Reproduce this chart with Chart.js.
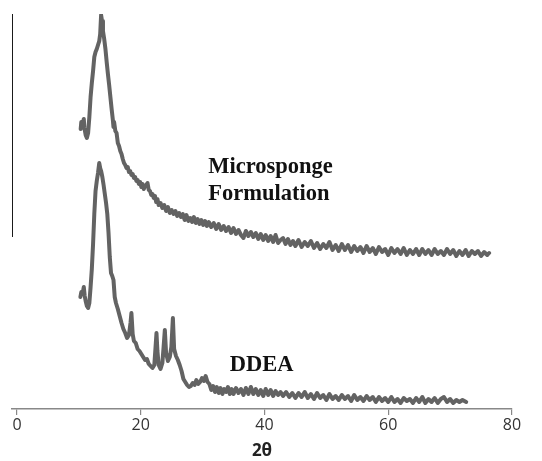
<!DOCTYPE html>
<html><head><meta charset="utf-8">
<script src="https://cdn.jsdelivr.net/npm/chart.js@4"></script>
<style>html,body{margin:0;padding:0;background:#fff}</style>
</head><body>
<canvas id="c" width="542" height="461"></canvas>
<script>
const xTicks = [0, 20, 40, 60, 80];
const axisTitle = '2θ';
const seriesNames = ['Microsponge Formulation', 'DDEA'];

const microTheta = [10.3,10.4,10.6,10.8,10.9,11.1,11.3,11.5,11.7,11.9,12.1,12.3,12.5,12.7,12.9,13.1,13.3,13.45,13.6,13.75,13.9,14.1,14.3,14.5,14.7,14.9,15.1,15.3,15.5,15.6,15.7,15.9,16.1,16.3,16.5,16.7,16.9,17.1,17.3,17.5,17.7,17.9,18.1,18.3,18.5,18.7,18.9,19.1,19.3,19.5,19.7,19.9,20.1,20.3,20.5,20.7,20.9,21.1,21.3,21.5,21.7,21.9,22.1,22.3,22.5,22.7,22.9,23.2,23.5,23.8,24.1,24.4,24.7,
25.0,25.3,25.6,25.9,26.2,26.5,26.8,27.1,27.4,27.7,28.0,28.3,28.6,28.9,29.2,29.5,29.8,30.1,30.4,30.7,31.0,31.4,31.8,32.2,32.6,33.0,33.4,33.8,34.2,34.6,35.0,35.4,35.8,36.2,36.6,37.0,37.4,37.8,38.2,38.6,39.0,39.4,39.8,40.2,40.6,41.0,41.4,41.8,42.2,42.6,43.0,43.4,43.8,44.2,44.6,45.0,45.5,46.0,46.5,47.0,47.5,48.0,48.5,49.0,49.5,50.0,50.5,51.0,51.5,52.0,52.5,53.0,53.5,54.0,54.5,55.0,55.5,56.0,56.5,57.0,57.5,58.0,58.5,59.0,59.5,60.0,60.5,61.0,61.5,62.0,62.5,63.0,63.5,64.0,64.5,65.0,65.5,66.0,66.5,67.0,67.5,68.0,68.5,69.0,69.5,70.0,70.5,71.0,71.5,72.0,72.5,73.0,73.5,74.0,74.5,75.0,75.5,76.0,76.3];
const microI = [280,287,284,290,281,274,271,276,292,312,326,338,352,357,360,364,368,375,394,388,378,370,360,347,335,324,312,300,289,282,287,278,276,266,263,258,255,250,246,244,241,242,237,238,234,235,231,232,228,229,225,227,222,225,220,223,224,226,219,218,214,215,211,213,207,210,204,206,201,204,198,202,196,
199,195,198,193,196,192,195,189,194,188,191,187,192,186,190,185,189,184,188,183,187,182,186,180,185,179,183,178,182,176,181,175,179,174,171,178,173,177,172,176,170,175,169,174,168,173,167,174,166,169,171,165,170,164,168,163,169,162,167,163,168,161,166,160,165,161,167,159,164,158,165,159,164,157,163,158,162,156,163,157,161,155,162,157,160,154,161,156,160,155,161,154,159,155,160,154,160,155,159,154,160,155,158,154,160,155,159,153,158,154,159,153,158,155,158,153,157,154,156];

const ddeaTheta = [10.25,10.4,10.6,10.8,10.95,11.1,11.3,11.5,11.7,11.9,12.1,12.3,12.5,12.7,12.9,13.1,13.3,13.45,13.6,13.8,14.0,14.2,14.4,14.6,14.8,15.0,15.2,15.4,15.6,15.8,16.0,16.3,16.6,16.9,17.2,17.5,17.8,18.1,18.35,18.5,18.7,18.9,19.2,19.5,19.8,20.1,20.4,20.7,21.0,21.3,21.6,21.9,22.2,22.4,22.55,22.7,22.9,23.2,23.5,23.7,23.9,24.1,24.4,24.7,24.95,25.2,25.4,25.7,26.0,26.3,26.6,26.9,27.2,27.5,27.8,28.1,28.4,28.7,29.0,29.3,29.6,29.9,30.2,30.5,30.8,31.1,31.4,31.7,32.0,32.3,32.6,32.9,33.2,33.5,33.8,34.1,34.4,34.7,35.0,35.4,35.8,36.2,36.6,37.0,37.4,37.8,38.2,38.6,39.0,39.4,39.8,40.2,40.6,41.0,41.4,41.8,42.2,42.6,43.0,43.5,44.0,44.5,45.0,45.5,46.0,46.5,47.0,47.5,48.0,48.5,49.0,49.5,50.0,50.5,51.0,51.5,52.0,52.5,53.0,53.5,54.0,54.5,55.0,55.5,56.0,56.5,57.0,57.5,58.0,58.5,59.0,59.5,60.0,60.5,61.0,61.5,62.0,62.5,63.0,63.5,64.0,64.5,65.0,65.5,66.0,66.5,67.0,67.5,68.0,68.5,69.0,69.5,70.0,70.5,71.0,71.5,72.0,72.6];
const ddeaI = [112,117,115,122,113,108,103,101,106,122,140,165,195,218,228,236,246,241,238,232,224,215,206,195,176,152,136,133,129,112,106,100,93,86,80,76,71,74,86,96,75,68,66,60,58,55,52,49,50,45,43,41,44,62,76,58,44,40,46,62,79,56,48,52,62,91,60,53,49,44,38,30,27,24,22,23,26,24,29,25,27,31,28,33,27,
25,19,23,17,22,16,21,15,20,17,22,15,20,
15,21,16,20,14,21,15,22,15,20,14,19,13,20,14,19,13,18,14,17,
13,
17,12,16,11,16,12,17,11,15,10,16,11,14,9,15,10,13,9,14,10,13,8,14,9,12,8,13,9,12,7,12,8,11,7,12,7,10,6,11,8,10,6,11,7,12,6,10,7,11,6,10,12,7,10,6,9,7,9,
7];

const notes = [
  {text: 'Microsponge', x: 30.9, y: 236},
  {text: 'Formulation', x: 30.9, y: 209},
  {text: 'DDEA', x: 34.4, y: 38}
];
const yMax = 395;
const leftBarBottom = 172;

function pts(t, v) { return t.map((x, i) => ({x: x, y: v[i]})); }

const deco = {
  id: 'deco',
  afterDraw(chart) {
    const {ctx, chartArea: a, scales: {x, y}} = chart;
    ctx.save();
    ctx.strokeStyle = '#1a1a1a';
    ctx.lineWidth = 1;
    ctx.beginPath();
    ctx.moveTo(a.left + 0.5, a.top);
    ctx.lineTo(a.left + 0.5, y.getPixelForValue(leftBarBottom));
    ctx.stroke();
    ctx.fillStyle = '#111';
    ctx.font = 'bold 22.5px "Liberation Serif"';
    ctx.textBaseline = 'alphabetic';
    ctx.textAlign = 'left';
    notes.forEach(n => ctx.fillText(n.text, x.getPixelForValue(n.x), y.getPixelForValue(n.y)));
    ctx.restore();
  }
};

const lineStyle = {borderColor: '#636363', borderWidth: 4, pointRadius: 0, tension: 0, fill: false, borderJoinStyle: 'round', borderCapStyle: 'round'};

new Chart(document.getElementById('c'), {
  type: 'line',
  data: {
    datasets: [
      Object.assign({label: seriesNames[0], data: pts(microTheta, microI)}, lineStyle),
      Object.assign({label: seriesNames[1], data: pts(ddeaTheta, ddeaI)}, lineStyle)
    ]
  },
  options: {
    responsive: false,
    animation: false,
    devicePixelRatio: 1,
    layout: {padding: {left: 12, right: 30, top: 14, bottom: 0}},
    plugins: {legend: {display: false}, tooltip: {enabled: false}},
    scales: {
      x: {
        type: 'linear', min: -0.8, max: 80,
        afterBuildTicks: s => { s.ticks = xTicks.map(v => ({value: v})); },
        afterFit: s => { s.height = 52; },
        border: {color: '#888', width: 1.5},
        grid: {drawOnChartArea: false, drawTicks: true, tickLength: 6, color: '#888', lineWidth: 1.2},
        ticks: {font: {family: '"Open Sans"', size: 16}, color: '#333', padding: 1, maxRotation: 0},
        title: {display: true, text: axisTitle, font: {family: '"Open Sans"', size: 17, weight: 'bold'}, color: '#222', padding: {top: 0, bottom: 0}}
      },
      y: {type: 'linear', min: 0, max: yMax, display: false}
    }
  },
  plugins: [deco]
});
</script>
</body></html>
